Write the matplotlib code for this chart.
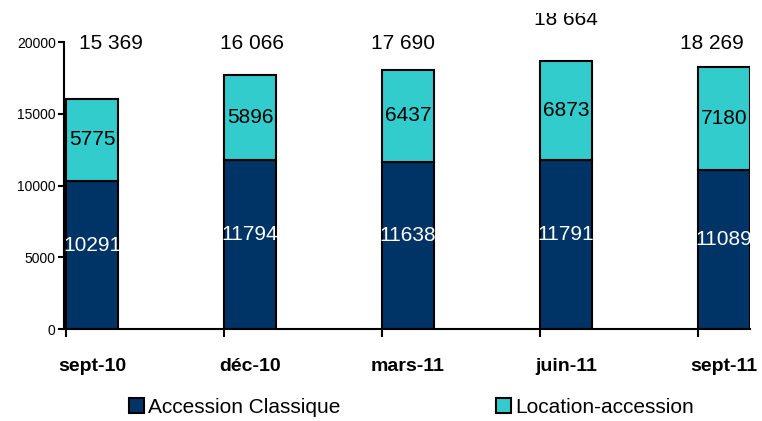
import matplotlib.pyplot as plt
import numpy as np
from matplotlib.transforms import Bbox

periods = ['sept-10', 'déc-10', 'mars-11', 'juin-11', 'sept-11']
classique = [10291, 11794, 11638, 11791, 11089]
location = [5775, 5896, 6437, 6873, 7180]
totals_txt = ['15 369', '16 066', '17 690', '18 664', '18 269']

plt.rcParams['font.family'] = ['Liberation Sans', 'DejaVu Sans']

fig = plt.figure(figsize=(7.62, 4.21), dpi=100)
ax = fig.add_axes([0.084, 0.2185, 0.9, 0.6815])

x = np.arange(len(periods))
w = 0.33
ax.bar(x, classique, w, align='edge', color='#003366', edgecolor='black',
       linewidth=1.5, label='Accession Classique')
ax.bar(x, location, w, bottom=classique, align='edge', color='#33CCCC',
       edgecolor='black', linewidth=1.5, label='Location-accession')

# value labels inside the segments
for i in range(len(x)):
    ax.text(x[i] + w / 2, classique[i] / 2 + 700, str(classique[i]),
            color='white', ha='center', va='center', fontsize=15)
    ax.text(x[i] + w / 2, classique[i] + location[i] / 2, str(location[i]),
            color='black', ha='center', va='center', fontsize=15)

# total labels above (placed as in the original, slightly shifted)
# the top of the picture cuts the highest one, like in the source image
clip = Bbox.from_extents(0, 0, 762, 421 - 13)
tot_dx = [0.12, 0.01, -0.03, 0.0, -0.075]
tot_y = [19930, 19930, 19930, 21550, 19930]
for i in range(len(x)):
    t = ax.text(x[i] + w / 2 + tot_dx[i], tot_y[i], totals_txt[i],
                ha='center', va='center', fontsize=15, clip_on=True)
    t.set_clip_box(clip)

ax.set_xlim(-0.013, 4.33)
ax.set_ylim(0, 20000)
ax.spines['top'].set_visible(False)
ax.spines['right'].set_visible(False)
ax.spines['left'].set_linewidth(1.5)
ax.spines['bottom'].set_linewidth(1.5)

ax.set_yticks([0, 5000, 10000, 15000, 20000])
ax.tick_params(axis='y', length=4, width=1.5, pad=2, labelsize=10)

ax.set_xticks(x)
ax.set_xticklabels([])
ax.tick_params(axis='x', which='major', length=6, width=1.5)
ax.set_xticks(x + w / 2, minor=True)
ax.set_xticklabels(periods, minor=True, fontsize=14, fontweight='bold')
ax.tick_params(axis='x', which='minor', length=0, pad=21)

fig.legend(loc='center', bbox_to_anchor=(0.540, 0.033), ncol=2, frameon=False,
           fontsize=15, handlelength=0.72, handleheight=0.72,
           handletextpad=0.2, columnspacing=7.5, borderpad=0)

fig.savefig('out.png', dpi=100)
